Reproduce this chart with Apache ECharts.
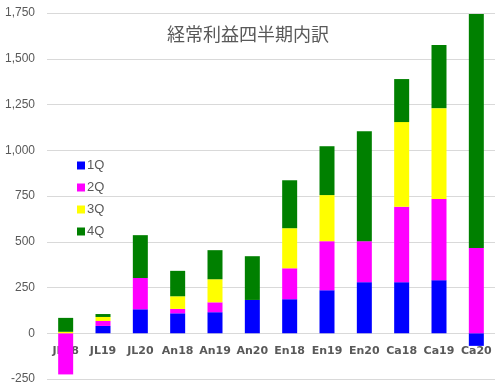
<!DOCTYPE html>
<html><head><meta charset="utf-8">
<script src="https://cdn.jsdelivr.net/npm/echarts@6/dist/echarts.min.js"></script>
<style>html,body{margin:0;padding:0;background:#fff}#c{width:499px;height:386px}</style>
</head><body><div id="c"></div>
<script>
const categories = ['JL18','JL19','JL20','An18','An19','An20','En18','En19','En20','Ca18','Ca19','Ca20'];
const q1 = [0, 40, 131, 109, 115, 182, 186, 235, 279, 279, 290, -69];
const q2 = [-225, 27, 171, 24, 54, 0, 169, 268, 224, 412, 443, 466];
const q3 = [8, 22, 0, 69, 126, 0, 219, 252, 0, 463, 497, 0];
const q4 = [76, 16, 234, 139, 159, 239, 262, 267, 601, 235, 345, 1278];
const seriesNames = ['1Q','2Q','3Q','4Q'];
const colors = ['#0000FF','#FF00FF','#FFFF00','#008000'];
const yTicks = {min: -250, max: 1750, interval: 250};
const title = '経常利益四半期内訳';

const chart = echarts.init(document.getElementById('c'), null, {renderer:'canvas'});
const font = '"Noto Sans CJK JP", "Liberation Sans", sans-serif';
const data = [q1,q2,q3,q4];
const gridTop = 13, gridBottom = 7, H = 386;
// place category labels at the zero line (value 0 position within the y range)
const plotH = H - gridTop - gridBottom;
const zeroOffset = -plotH * (0 - yTicks.min) / (yTicks.max - yTicks.min);
chart.setOption({
  animation:false,
  backgroundColor:'#fff',
  title:{text:title, left:243, textAlign:'center', top:20,
    textStyle:{fontFamily:font, fontSize:18, fontWeight:'normal', color:'#595959'}},
  legend:{orient:'vertical', left:72, top:154, itemWidth:8, itemHeight:8, itemGap:9,
    icon:'rect', data:seriesNames,
    textStyle:{fontFamily:'"Liberation Sans", sans-serif', fontSize:13, color:'#595959', padding:[0,0,0,-3]}},
  grid:{left:47, right:4, top:gridTop, bottom:gridBottom, containLabel:false, outerBoundsMode:'none'},
  xAxis:{type:'category', data:categories, position:'bottom', offset:zeroOffset,
    axisLine:{show:false},
    axisTick:{show:false},
    axisLabel:{interval:0, margin:12, fontFamily:'"DejaVu Sans", sans-serif', fontWeight:'bold', fontSize:11, color:'#595959'}},
  yAxis:{type:'value', min:yTicks.min, max:yTicks.max, interval:yTicks.interval,
    axisLine:{show:false}, axisTick:{show:false},
    splitLine:{lineStyle:{color:'#d9d9d9'}},
    axisLabel:{margin:12, fontFamily:'"Liberation Sans", sans-serif', fontSize:12, color:'#595959',
      formatter:v=>v.toLocaleString('en-US')}},
  series: seriesNames.map((n,i)=>({name:n, type:'bar', stack:'total', barWidth:15,
    itemStyle:{color:colors[i]}, data:data[i]}))
});
</script></body></html>
